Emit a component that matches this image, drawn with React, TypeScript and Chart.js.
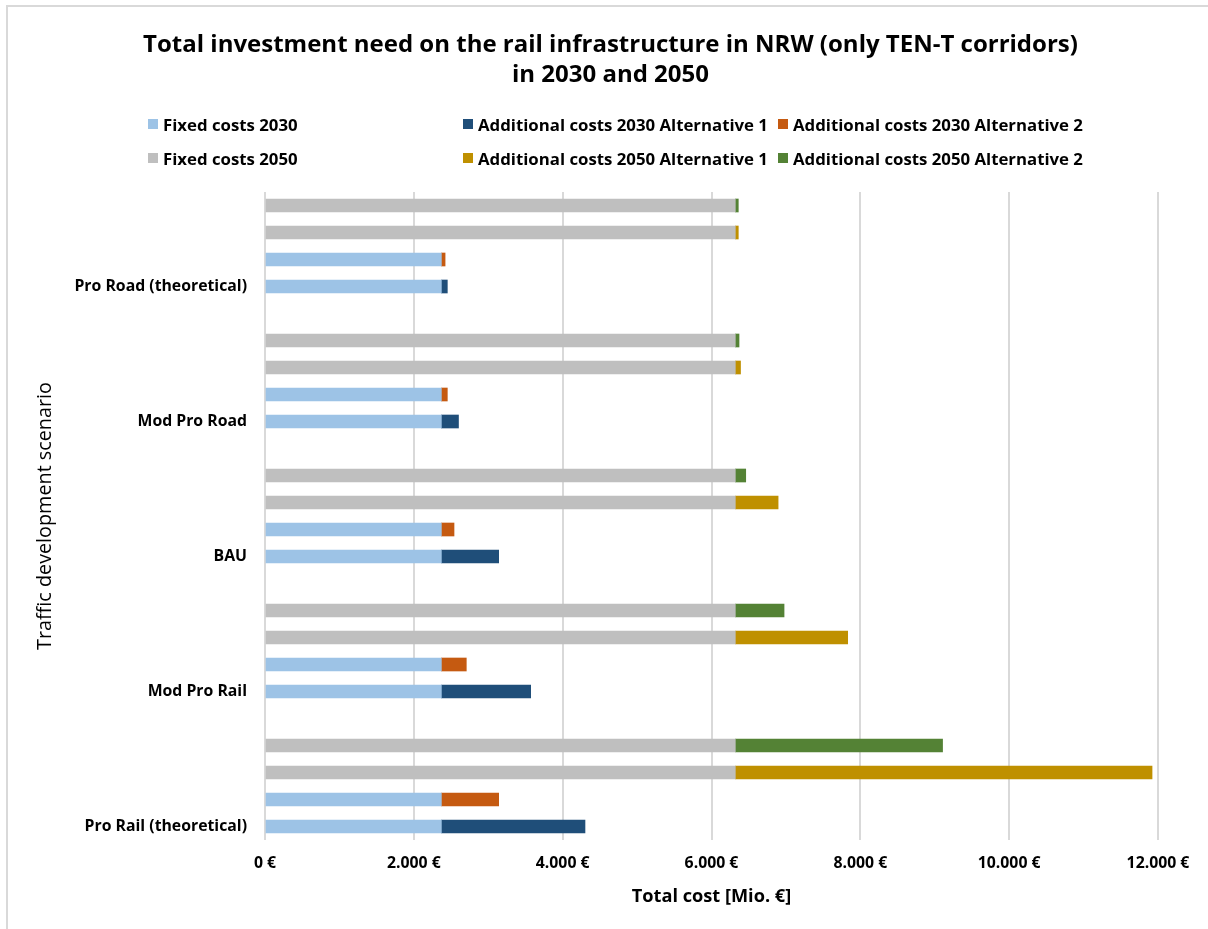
import React, { useEffect, useRef } from "react";
import { Chart, registerables } from "chart.js";

Chart.register(...registerables);

// ---- data ----
const scenarios = [
  "Pro Road (theoretical)",
  "Mod Pro Road",
  "BAU",
  "Mod Pro Rail",
  "Pro Rail (theoretical)",
];
const fixedCosts2030 = [2370, 2370, 2370, 2370, 2370];
const fixedCosts2050 = [6320, 6320, 6320, 6320, 6320];
const addCosts2030Alt1 = [80, 230, 770, 1200, 1930];
const addCosts2030Alt2 = [50, 80, 170, 335, 770];
const addCosts2050Alt1 = [40, 70, 575, 1510, 5600];
const addCosts2050Alt2 = [40, 50, 140, 655, 2785];

const seriesNames = [
  "Fixed costs 2030",
  "Additional costs 2030 Alternative 1",
  "Additional costs 2030 Alternative 2",
  "Fixed costs 2050",
  "Additional costs 2050 Alternative 1",
  "Additional costs 2050 Alternative 2",
];
const seriesColors = ["#9DC3E6", "#1F4E79", "#C55A11", "#BFBFBF", "#BF9000", "#548235"];

const xTickValues = [0, 2000, 4000, 6000, 8000, 10000, 12000];

const chartTitle = [
  "Total investment need on the rail infrastructure in NRW (only TEN-T corridors)",
  "in 2030 and 2050",
];
const xTitle = "Total cost [Mio. €]";
const yTitle = "Traffic development scenario";

// rows per scenario from top: 2050 Alt2, 2050 Alt1, 2030 Alt2, 2030 Alt1 (labelled), then a gap row
const FONT = "'Open Sans', 'DejaVu Sans', sans-serif";

function buildRows() {
  const labels: string[] = [];
  const ds: (number | null)[][] = [[], [], [], [], [], []];
  const push = (label: string, vals: (number | null)[]) => {
    labels.push(label);
    vals.forEach((v, i) => ds[i].push(v));
  };
  scenarios.forEach((name, i) => {
    push("", [null, null, null, fixedCosts2050[i], null, addCosts2050Alt2[i]]);
    push("", [null, null, null, fixedCosts2050[i], addCosts2050Alt1[i], null]);
    push("", [fixedCosts2030[i], null, addCosts2030Alt2[i], null, null, null]);
    push(name, [fixedCosts2030[i], addCosts2030Alt1[i], null, null, null, null]);
    if (i < scenarios.length - 1) push("", [null, null, null, null, null, null]);
  });
  return { labels, ds };
}

function fmt(v: number) {
  return String(v).replace(/\B(?=(\d{3})+(?!\d))/g, ".") + " €";
}

export default function App() {
  const canvasRef = useRef<HTMLCanvasElement | null>(null);

  useEffect(() => {
    if (!canvasRef.current) return;
    const { labels, ds } = buildRows();
    const chart = new Chart(canvasRef.current, {
      type: "bar",
      data: {
        labels,
        datasets: seriesNames.map((name, i) => ({
          label: name,
          data: ds[i],
          backgroundColor: seriesColors[i],
          borderWidth: 0,
          barThickness: 13,
        })),
      },
      options: {
        indexAxis: "y",
        animation: false,
        responsive: true,
        maintainAspectRatio: false,
        layout: { padding: { top: 192, left: 0, right: 50, bottom: 0 } },
        plugins: {
          legend: { display: false },
          title: { display: false },
          tooltip: { enabled: false },
        },
        scales: {
          x: {
            stacked: true,
            min: 0,
            max: 12000,
            afterFit: (s: any) => {
              s.height = 89;
            },
            afterBuildTicks: (s: any) => {
              s.ticks = xTickValues.map((v) => ({ value: v }));
            },
            grid: { color: "#D9D9D9", lineWidth: 2, drawTicks: false },
            border: { display: false },
            ticks: {
              padding: 14,
              color: "#000",
              font: { family: FONT, weight: "bold", size: 15.8 },
              callback: (v: any) => fmt(Number(v)),
            },
            title: {
              display: true,
              text: xTitle,
              color: "#000",
              font: { family: FONT, weight: "bold", size: 18.2 },
              padding: { top: 0, bottom: 21 },
            },
          },
          y: {
            stacked: true,
            afterFit: (s: any) => {
              s.width = 265;
            },
            grid: { display: false, drawTicks: false },
            border: { display: false },
            ticks: {
              autoSkip: false,
              padding: 18,
              color: "#000",
              font: { family: FONT, weight: "bold", size: 15.8 },
            },
            title: {
              display: true,
              text: yTitle,
              color: "#000",
              font: { family: FONT, weight: "normal", size: 19.8 },
              padding: { top: 33, bottom: 0 },
            },
          },
        },
      },
    });
    return () => chart.destroy();
  }, []);

  const legendCols = [148, 463, 778];
  const legendRows = [124, 158];
  const legendLayout = [
    [0, 1, 2],
    [3, 4, 5],
  ];

  return (
    <div
      style={{
        position: "absolute",
        left: 0,
        top: 0,
        width: 1208,
        height: 929,
        overflow: "hidden",
        background: "#fff",
        fontFamily: FONT,
      }}
    >
      <div
        style={{
          position: "absolute",
          left: 6,
          top: 5,
          width: 1300,
          height: 1000,
          borderTop: "2px solid #D9D9D9",
          borderLeft: "2px solid #D9D9D9",
          boxSizing: "border-box",
        }}
      />
      <div style={{ position: "absolute", left: 0, top: 0, width: 1208, height: 929 }}>
        <canvas ref={canvasRef} />
      </div>
      <div
        style={{
          position: "absolute",
          left: 0,
          top: 28,
          width: 1221,
          textAlign: "center",
          fontWeight: "bold",
          fontSize: 24,
          lineHeight: "30px",
          color: "#000",
        }}
      >
        {chartTitle.map((t, i) => (
          <div key={i} style={{ whiteSpace: "nowrap" }}>{t}</div>
        ))}
      </div>
      {legendLayout.map((row, r) =>
        row.map((si, c) => (
          <div
            key={si}
            style={{
              position: "absolute",
              left: legendCols[c],
              top: legendRows[r] - 12,
              height: 24,
              display: "flex",
              alignItems: "center",
              whiteSpace: "nowrap",
              fontWeight: "bold",
              fontSize: 16.8,
              color: "#000",
            }}
          >
            <span
              style={{
                display: "inline-block",
                width: 10,
                height: 10,
                background: seriesColors[si],
                marginRight: 5,
              }}
            />
            {seriesNames[si]}
          </div>
        ))
      )}
    </div>
  );
}
